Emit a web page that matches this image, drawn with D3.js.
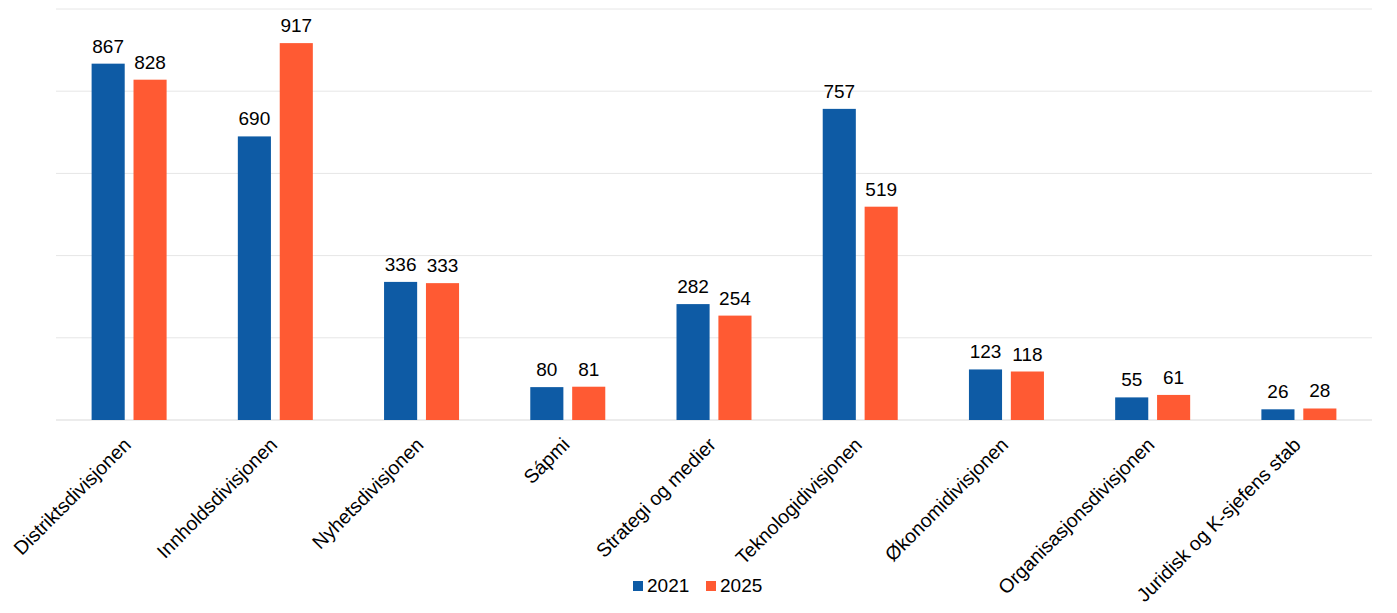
<!DOCTYPE html>
<html>
<head>
<meta charset="utf-8">
<script src="https://cdn.jsdelivr.net/npm/d3@7"></script>
<style>
  body { margin: 0; background: #fff; }
  text { font-family: "Liberation Sans", Arial, sans-serif; }
</style>
</head>
<body>
<svg width="1397" height="613"></svg>
<script>
const categories = ["Distriktsdivisjonen", "Innholdsdivisjonen", "Nyhetsdivisjonen", "Sápmi",
  "Strategi og medier", "Teknologidivisjonen", "Økonomidivisjonen", "Organisasjonsdivisjonen",
  "Juridisk og K-sjefens stab"];
const seriesNames = ["2021", "2025"];
const values2021 = [867, 690, 336, 80, 282, 757, 123, 55, 26];
const values2025 = [828, 917, 333, 81, 254, 519, 118, 61, 28];
const gridTicks = [0, 200, 400, 600, 800, 1000];
const colors = ["#0E5BA5", "#FF5A33"];

const svg = d3.select("svg");
const margin = { top: 9, right: 25, bottom: 193, left: 56 };
const width = +svg.attr("width") - margin.left - margin.right;
const height = +svg.attr("height") - margin.top - margin.bottom;
const g = svg.append("g").attr("transform", `translate(${margin.left},${margin.top})`);

const x = d3.scaleBand().domain(categories).range([0, width]).paddingInner(0).paddingOuter(0);
const x1 = d3.scaleBand().domain(seriesNames).range([x.bandwidth() / 2 - 37.5, x.bandwidth() / 2 + 37.5]).paddingInner(0.21);
const y = d3.scaleLinear().domain([0, 1000]).range([height, 0]);

// gridlines
g.append("g")
  .selectAll("line")
  .data(gridTicks)
  .enter()
  .append("line")
  .attr("x1", 0).attr("x2", width)
  .attr("y1", d => y(d)).attr("y2", d => y(d))
  .attr("stroke", d => d === 0 ? "#d9d9d9" : "#e6e6e6")
  .attr("stroke-width", 1);

const rows = categories.map((c, i) => ({ cat: c, vals: [values2021[i], values2025[i]] }));

const groups = g.selectAll(".grp")
  .data(rows)
  .enter()
  .append("g")
  .attr("transform", d => `translate(${x(d.cat)},0)`);

groups.selectAll("rect")
  .data(d => d.vals.map((v, i) => ({ key: seriesNames[i], v, i })))
  .enter()
  .append("rect")
  .attr("x", d => x1(d.key))
  .attr("width", x1.bandwidth())
  .attr("y", d => y(d.v))
  .attr("height", d => y(0) - y(d.v))
  .attr("fill", d => colors[d.i]);

groups.selectAll(".val")
  .data(d => d.vals.map((v, i) => ({ key: seriesNames[i], v, i })))
  .enter()
  .append("text")
  .attr("class", "val")
  .attr("x", d => x1(d.key) + x1.bandwidth() / 2)
  .attr("y", d => y(d.v) - 11)
  .attr("text-anchor", "middle")
  .attr("font-size", 19)
  .attr("fill", "#000")
  .text(d => d.v);

// x axis labels, rotated
g.append("g")
  .selectAll("text")
  .data(categories)
  .enter()
  .append("text")
  .attr("transform", d => `translate(${x(d) + x.bandwidth() / 2 + 3},${height + 26}) rotate(-45)`)
  .attr("text-anchor", "end")
  .attr("font-size", 19.5)
  .attr("fill", "#000")
  .text(d => d);

// legend
const legend = svg.append("g").attr("transform", "translate(633,581)");
const items = legend.selectAll("g")
  .data(seriesNames)
  .enter()
  .append("g")
  .attr("transform", (d, i) => `translate(${i * 73},0)`);
items.append("rect").attr("width", 10).attr("height", 10).attr("fill", (d, i) => colors[i]);
items.append("text").attr("x", 14).attr("y", 11).attr("font-size", 19).attr("fill", "#000").text(d => d);
</script>
</body>
</html>
